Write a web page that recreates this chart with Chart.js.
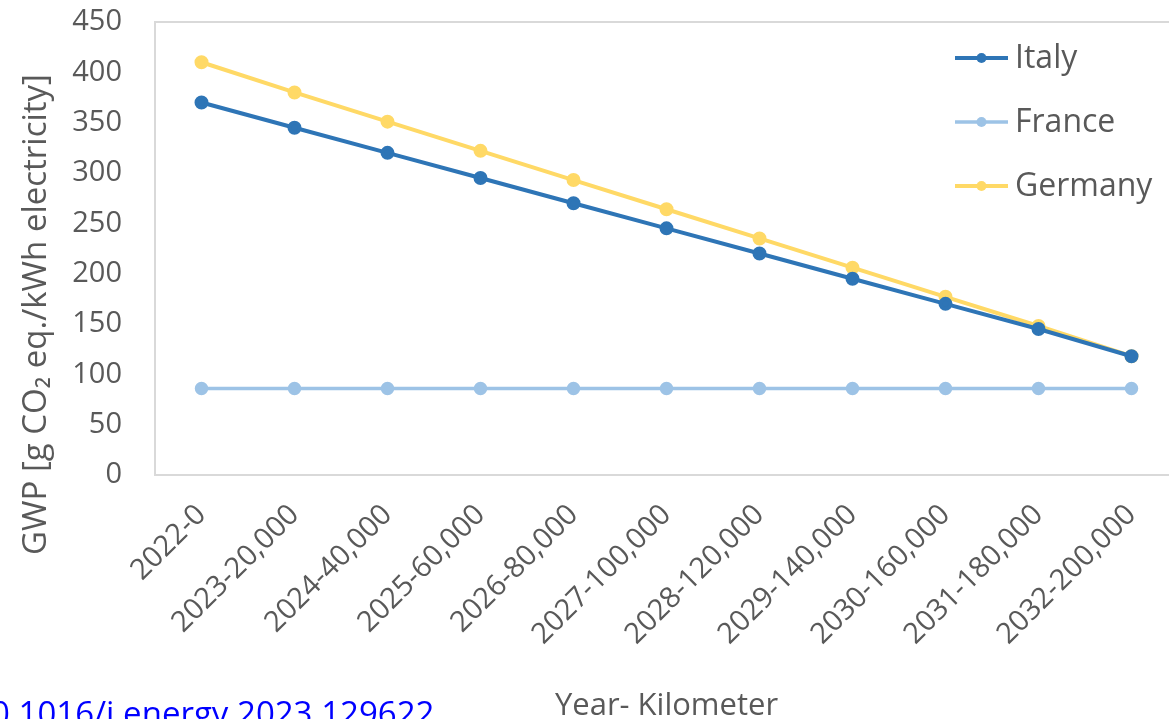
<!DOCTYPE html>
<html>
<head>
<meta charset="utf-8">
<script src="https://cdn.jsdelivr.net/npm/chart.js@4.4.0/dist/chart.umd.min.js"></script>
<style>
  html, body { margin: 0; padding: 0; background: #fff; overflow: hidden; }
  #wrap { position: relative; width: 1169px; height: 719px; overflow: hidden; }
  #lineChart { position: absolute; left: 0; top: 0; }
  #doi { position: absolute; left: -9px; top: 693px; font-family: "Open Sans"; font-size: 33px; line-height: 1.2; color: #0000ff; white-space: nowrap; }
</style>
</head>
<body>
<div id="wrap">
  <canvas id="lineChart" width="1200" height="730"></canvas>
  <div id="doi">0.1016/j.energy.2023.129622</div>
</div>
<script>
const categories = ["2022-0", "2023-20,000", "2024-40,000", "2025-60,000", "2026-80,000", "2027-100,000",
  "2028-120,000", "2029-140,000", "2030-160,000", "2031-180,000", "2032-200,000"];
const italy = [370, 345, 320, 295, 270, 245, 220, 195, 170, 145, 118];
const france = [86, 86, 86, 86, 86, 86, 86, 86, 86, 86, 86];
const germany = [410, 380, 351, 322, 293, 264, 235, 206, 177, 148, 118];
const yMin = 0, yMax = 450, yStep = 50;

const textColor = "#595959";
const frameColor = "#d9d9d9";

// frame round the plot area, like the spreadsheet chart
const plotFrame = {
  id: "plotFrame",
  beforeDatasetsDraw(chart) {
    const { ctx, chartArea } = chart;
    ctx.save();
    ctx.strokeStyle = frameColor;
    ctx.lineWidth = 2;
    ctx.strokeRect(chartArea.left, chartArea.top, chartArea.right - chartArea.left, chartArea.bottom - chartArea.top);
    ctx.restore();
  }
};

// legend sits inside the plot, top right
const insideLegend = {
  id: "insideLegend",
  afterDraw(chart) {
    const { ctx, chartArea } = chart;
    const x0 = chartArea.right - 223;
    chart.data.datasets.forEach((ds, i) => {
      const y = chartArea.top + 36 + i * 64;
      ctx.save();
      ctx.strokeStyle = ds.borderColor;
      ctx.lineWidth = ds.borderWidth;
      ctx.beginPath();
      ctx.moveTo(x0, y);
      ctx.lineTo(x0 + 53, y);
      ctx.stroke();
      ctx.fillStyle = ds.borderColor;
      ctx.beginPath();
      ctx.arc(x0 + 26.5, y, 5, 0, Math.PI * 2);
      ctx.fill();
      ctx.fillStyle = textColor;
      ctx.font = '32px "Open Sans"';
      ctx.textBaseline = "middle";
      ctx.fillText(ds.label, x0 + 60, y + 1);
      ctx.restore();
    });
  }
};

var ctx = document.getElementById("lineChart").getContext("2d");
var lineChart = new Chart(ctx, {
  type: "line",
  data: {
    labels: categories,
    datasets: [
      { label: "Italy", data: italy, borderColor: "#2e75b6", backgroundColor: "#2e75b6", borderWidth: 4, pointRadius: 5 },
      { label: "France", data: france, borderColor: "#9dc3e6", backgroundColor: "#9dc3e6", borderWidth: 3.5, pointRadius: 5 },
      { label: "Germany", data: germany, borderColor: "#ffd966", backgroundColor: "#ffd966", borderWidth: 4, pointRadius: 5 }
    ]
  },
  options: {
    responsive: false,
    animation: false,
    layout: { padding: { left: 0, top: 22, right: 22, bottom: 0 } },
    elements: { line: { tension: 0 }, point: { borderWidth: 0, hoverRadius: 5 } },
    plugins: {
      legend: { display: false },
      tooltip: { enabled: false }
    },
    scales: {
      x: {
        offset: true,
        grid: { display: false, drawTicks: false },
        border: { display: false },
        // fixed band under the plot; rotated first label may hang left, as in the original
        afterFit: (scale) => { scale.height = 255; scale.paddingLeft = 0; },
        ticks: {
          autoSkip: false,
          maxRotation: 45,
          minRotation: 45,
          padding: 23,
          color: textColor,
          font: { family: "Open Sans", size: 29 }
        },
        title: {
          display: true,
          text: "Year- Kilometer",
          color: textColor,
          font: { family: "Open Sans", size: 31 },
          padding: { top: 10, bottom: 5 }
        }
      },
      y: {
        min: yMin,
        max: yMax,
        grid: { display: false, drawTicks: false },
        border: { display: false },
        afterFit: (scale) => { scale.width = 155; scale.paddingTop = 0; scale.paddingBottom = 0; },
        ticks: {
          stepSize: yStep,
          padding: 33,
          color: textColor,
          font: { family: "Open Sans", size: 29 }
        },
        title: {
          display: true,
          text: "GWP [g CO\u2082 eq./kWh electricity]\u2003\u2003\u2003\u2003",
          color: textColor,
          font: { family: "Open Sans", size: 33 },
          padding: { top: 17, bottom: 10 }
        }
      }
    }
  },
  plugins: [plotFrame, insideLegend]
});
</script>
</body>
</html>
